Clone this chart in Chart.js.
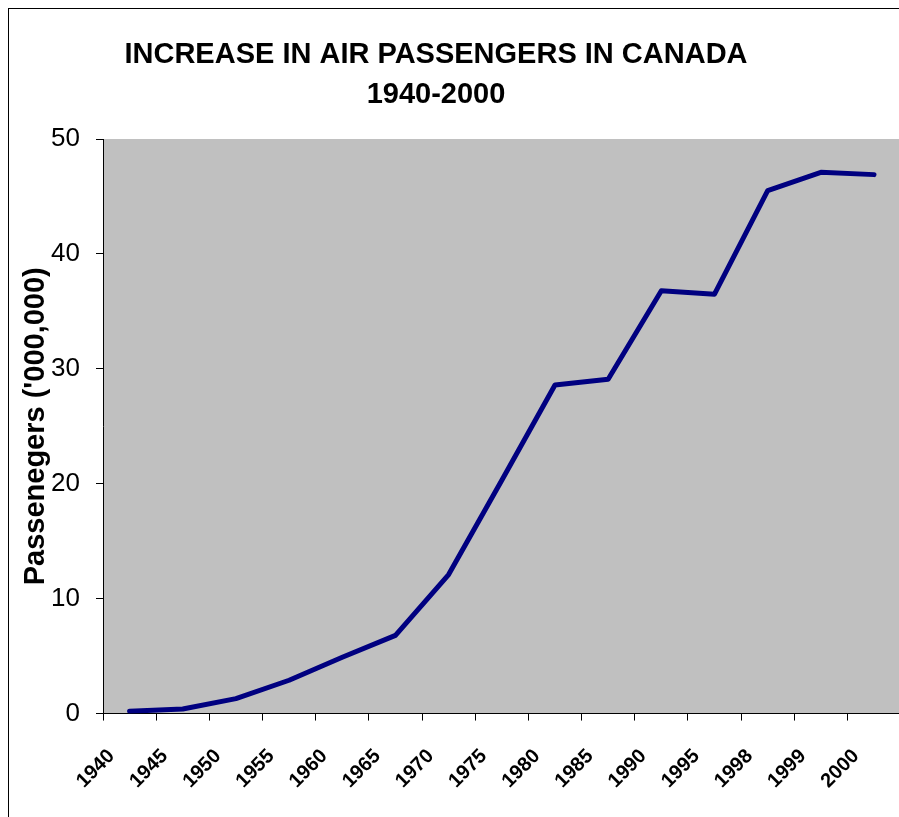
<!DOCTYPE html>
<html>
<head>
<meta charset="utf-8">
<script src="https://cdn.jsdelivr.net/npm/chart.js@4/dist/chart.umd.min.js"></script>
<style>
  html, body { margin: 0; padding: 0; background: #fff; overflow: hidden; }
  #frame { position: absolute; left: 8px; top: 8px; width: 1000px; height: 1000px; border: 1px solid #000; }
  #wrap { position: absolute; left: 0; top: 0; width: 915px; height: 817px; }
</style>
</head>
<body>
<div id="frame"></div>
<div id="wrap"><canvas id="air_chart"></canvas></div>
<script>
  // data
  const years = ['1940', '1945', '1950', '1955', '1960', '1965', '1970', '1975',
                 '1980', '1985', '1990', '1995', '1998', '1999', '2000'];
  const passengers = [0.2, 0.4, 1.3, 2.9, 4.9, 6.8, 12.1, 20.3,
                      28.6, 29.1, 36.8, 36.5, 45.5, 47.1, 46.9];
  const title_lines = ['INCREASE IN AIR PASSENGERS IN CANADA', '1940-2000'];
  const FONT = '"Liberation Sans", Arial, sans-serif';

  // grey plot area
  const plotBg = {
    id: 'plotBg',
    beforeDraw: function(chart) {
      var a = chart.chartArea, ctx = chart.ctx;
      ctx.save();
      ctx.fillStyle = '#c0c0c0';
      ctx.fillRect(a.left, a.top, a.right - a.left, a.bottom - a.top);
      ctx.restore();
    }
  };

  // title sits left of the plot centre, like the original sheet
  const sheetTitle = {
    id: 'sheetTitle',
    afterDraw: function(chart) {
      var ctx = chart.ctx;
      ctx.save();
      ctx.fillStyle = '#000';
      ctx.font = 'bold 29px ' + FONT;
      ctx.textAlign = 'center';
      ctx.textBaseline = 'alphabetic';
      ctx.fillText(title_lines[0], 436, 63);
      ctx.fillText(title_lines[1], 436, 103);
      ctx.restore();
    }
  };

  const config = {
    type: 'line',
    data: {
      labels: years,
      datasets: [{
        label: 'Passengers',
        data: passengers,
        borderColor: '#000080',
        borderWidth: 5,
        borderCapStyle: 'round',
        borderJoinStyle: 'round',
        pointRadius: 0,
        tension: 0,
        fill: false
      }]
    },
    options: {
      responsive: true,
      maintainAspectRatio: false,
      animation: false,
      layout: { padding: { left: 21, top: 139, right: 0, bottom: 0 } },
      plugins: {
        legend: { display: false },
        title: { display: false },
        tooltip: { enabled: false }
      },
      scales: {
        x: {
          type: 'category',
          offset: true,
          border: { display: true, color: '#000', width: 1 },
          grid: { offset: true, drawOnChartArea: false, drawTicks: true, tickLength: 7, color: '#000' },
          ticks: {
            autoSkip: false,
            maxRotation: 45,
            minRotation: 45,
            labelOffset: -18,
            padding: 24,
            color: '#000',
            font: { family: FONT, size: 20, weight: 'bold' }
          }
        },
        y: {
          min: 0,
          max: 50,
          afterFit: function(scale) { scale.width = 82; },
          border: { display: true, color: '#000', width: 1 },
          grid: { drawOnChartArea: false, drawTicks: true, tickLength: 7, color: '#000' },
          ticks: {
            stepSize: 10,
            padding: 16,
            color: '#000',
            font: { family: FONT, size: 26 }
          },
          title: {
            display: true,
            text: "Passenegers ('000,000)",
            color: '#000',
            padding: 0,
            font: { family: FONT, size: 29, weight: 'bold', lineHeight: 1 }
          }
        }
      }
    },
    plugins: [plotBg, sheetTitle]
  };

  const air_chart = new Chart(document.getElementById('air_chart'), config);
</script>
</body>
</html>
